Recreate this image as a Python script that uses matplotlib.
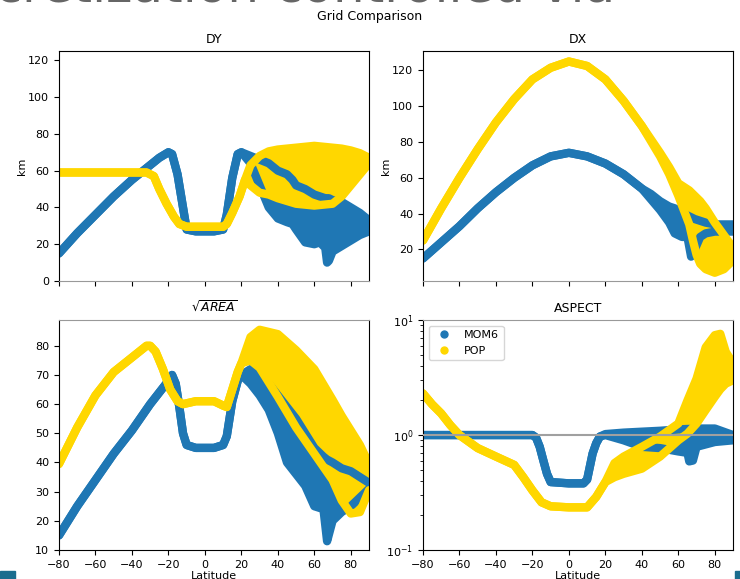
import matplotlib
matplotlib.use('Agg')
import matplotlib.pyplot as plt
from matplotlib.lines import Line2D
from matplotlib.patches import Rectangle

BLUE = '#1f77b4'
GOLD = '#ffd700'

# DY (km) - MOM6 band: latitude, lower edge, upper edge
dy_lat_mom6 = [-80, -70, -60, -50, -40, -30, -25, -20, -18, -15, -12, -10, -5, 0, 5, 10, 12, 15, 18, 20,
               25, 30, 35, 40, 45, 48, 50, 55, 60, 63, 66, 67, 68, 70, 75, 80, 85, 90]
dy_lo_mom6 = [15, 26, 36, 46, 55, 63, 67, 70, 69, 58, 40, 28, 27, 27, 27, 28, 36, 56, 69, 70,
              64, 52, 40, 34, 32, 31, 28, 21, 20, 21, 18, 10, 11, 16, 19, 22, 25, 27]
dy_hi_mom6 = [15, 26, 36, 46, 55, 63, 67, 70, 69, 58, 40, 28, 27, 27, 27, 28, 36, 56, 69, 70,
              68, 66, 64, 60, 58, 55, 52, 50, 47, 46, 45, 45, 45, 44, 43, 40, 37, 33]

dy_lat_pop = [-80, -70, -60, -50, -40, -32, -28, -25, -21, -17, -14, -10, 0, 10, 12, 15, 19, 22,
              25, 30, 35, 40, 50, 60, 70, 75, 80, 85, 90]
dy_lo_pop = [59, 59, 59, 59, 59, 59, 57, 50, 42, 35, 31, 29.5, 29.5, 29.5, 31, 37, 46, 55,
             52, 48, 47, 45, 42, 41, 42, 46, 52, 58, 64]
dy_hi_pop = [59, 59, 59, 59, 59, 59, 57, 50, 42, 35, 31, 29.5, 29.5, 29.5, 31, 37, 46, 55,
             63, 68, 70.5, 71.5, 72.5, 73.5, 72.5, 72, 71, 69.5, 67]

# DX (km)
dx_lat_mom6 = [-80, -70, -60, -50, -40, -30, -20, -10, 0, 10, 20, 30, 40, 45, 50, 55, 58, 62, 65, 67, 69, 72, 75, 80, 90]
dx_lo_mom6 = [15, 24, 33, 43, 52, 60, 67, 72, 74, 72, 68, 62, 54, 48, 42, 35, 29, 27, 27, 16, 20, 27, 29, 30, 30]
dx_hi_mom6 = [15, 24, 33, 43, 52, 60, 67, 72, 74, 72, 68, 62, 54, 51, 47, 44, 43, 41, 39, 38, 37, 36, 35, 34, 34]

dx_lat_pop = [-80, -70, -60, -50, -40, -30, -20, -10, 0, 10, 20, 30, 40, 50, 55, 60, 63, 66, 68, 70, 72, 75, 80, 85, 90]
dx_lo_pop = [25, 43, 60, 76, 91, 104, 115, 121.5, 125, 122.5, 115, 103, 89, 72, 62, 50, 42, 34, 25, 17, 12, 9, 7, 9, 14]
dx_hi_pop = [25, 43, 60, 76, 91, 104, 115, 121.5, 125, 122.5, 115, 103, 89, 74, 66, 57, 55, 53, 51, 49, 47, 43, 35, 28, 21]

# sqrt(AREA) (km)
ar_lat_mom6 = [-80, -70, -60, -50, -40, -30, -20, -18, -16, -14, -12, -10, -5, 0, 5, 10, 12, 15, 18, 20,
               25, 30, 35, 40, 45, 50, 55, 60, 65, 67, 70, 75, 80, 85, 90]
ar_lo_mom6 = [15, 25, 34, 43, 51, 60, 68, 70, 67, 59, 50, 46, 45, 45, 45, 46, 49, 61, 68, 70,
              67, 63, 58, 50, 40, 36, 32, 25, 24, 13, 20, 23, 25, 28, 31]
ar_hi_mom6 = [15, 25, 34, 43, 51, 60, 68, 70, 67, 59, 50, 46, 45, 45, 45, 46, 49, 61, 68, 70,
              72, 70, 67, 63, 59, 55, 50, 45, 42, 41, 40, 38, 37, 35, 33]

ar_lat_pop = [-80, -70, -60, -50, -40, -32, -30, -27, -23, -19, -15, -12, -5, 0, 5, 10, 12, 15, 18, 20,
              25, 30, 40, 50, 60, 70, 75, 80, 85, 90]
ar_lo_pop = [39.5, 52, 63, 71, 76, 80, 80, 78, 72, 65, 61, 60, 61, 61, 61, 59.5, 59, 65, 71, 74,
             75, 72.5, 62.5, 52, 43, 34, 27, 22.5, 23, 30.5]
ar_hi_pop = [39.5, 52, 63, 71, 76, 80, 80, 78, 72, 65, 61, 60, 61, 61, 61, 59.5, 59, 65, 71, 74,
             83, 85.5, 84, 78.5, 72, 61.5, 56, 51, 46, 39.5]

# ASPECT (dy/dx)
as_lat_mom6 = [-80, -60, -40, -20, -18, -16, -14, -12, -10, 0, 8, 10, 13, 15, 17,
               20, 30, 40, 50, 60, 65, 66, 68, 70, 80, 90]
as_lo_mom6 = [1.0, 1.0, 1.0, 1.0, 0.95, 0.79, 0.6, 0.46, 0.39, 0.38, 0.38, 0.41, 0.69, 0.85, 0.97,
              1.0, 0.9, 0.79, 0.77, 0.72, 0.7, 0.59, 0.6, 0.79, 0.87, 0.9]
as_hi_mom6 = [1.0, 1.0, 1.0, 1.0, 0.95, 0.79, 0.6, 0.46, 0.39, 0.38, 0.38, 0.41, 0.69, 0.85, 0.97,
              1.02, 1.05, 1.07, 1.09, 1.12, 1.13, 1.13, 1.13, 1.14, 1.14, 1.0]

as_lat_pop = [-80, -75, -70, -65, -60, -50, -40, -30, -25, -20, -15, -10, 0, 10, 15, 20,
              25, 30, 40, 50, 60, 65, 70, 75, 80, 83, 86, 90]
as_lo_pop = [2.3, 1.85, 1.54, 1.22, 1.0, 0.77, 0.65, 0.55, 0.43, 0.33, 0.26, 0.24, 0.235, 0.235, 0.29, 0.39,
             0.43, 0.46, 0.51, 0.65, 0.9, 1.03, 1.26, 1.65, 2.15, 2.5, 2.8, 3.0]
as_hi_pop = [2.3, 1.85, 1.54, 1.22, 1.0, 0.77, 0.65, 0.55, 0.43, 0.33, 0.26, 0.24, 0.235, 0.235, 0.29, 0.39,
             0.57, 0.65, 0.79, 0.97, 1.26, 2.0, 3.1, 5.8, 7.4, 7.6, 5.3, 4.2]

x_ticks = [-80, -60, -40, -20, 0, 20, 40, 60, 80]


def band(ax, lat, lo, hi, color):
    # thick scatter-like band: fill between edges, plus fat edge lines
    ax.fill_between(lat, lo, hi, color=color, lw=0)
    ax.plot(lat, lo, color=color, lw=6, solid_capstyle='round', solid_joinstyle='round')
    ax.plot(lat, hi, color=color, lw=6, solid_capstyle='round', solid_joinstyle='round')


plt.rcParams['font.size'] = 8
fig = plt.figure(figsize=(7.4, 5.79), dpi=100)

ax_dy = fig.add_axes([0.0797, 0.5147, 0.419, 0.397])
ax_dx = fig.add_axes([0.5716, 0.5147, 0.419, 0.397])
ax_ar = fig.add_axes([0.0797, 0.0501, 0.419, 0.397])
ax_as = fig.add_axes([0.5716, 0.0501, 0.419, 0.397])

band(ax_dy, dy_lat_mom6, dy_lo_mom6, dy_hi_mom6, BLUE)
band(ax_dy, dy_lat_pop, dy_lo_pop, dy_hi_pop, GOLD)
ax_dy.set_ylim(0, 125)
ax_dy.set_yticks([0, 20, 40, 60, 80, 100, 120])
ax_dy.set_ylabel('km', labelpad=1)
ax_dy.set_title('DY', fontsize=9)

band(ax_dx, dx_lat_mom6, dx_lo_mom6, dx_hi_mom6, BLUE)
band(ax_dx, dx_lat_pop, dx_lo_pop, dx_hi_pop, GOLD)
ax_dx.set_ylim(2.4, 130.8)
ax_dx.set_yticks([20, 40, 60, 80, 100, 120])
ax_dx.set_ylabel('km', labelpad=1)
ax_dx.set_title('DX', fontsize=9)

band(ax_ar, ar_lat_mom6, ar_lo_mom6, ar_hi_mom6, BLUE)
band(ax_ar, ar_lat_pop, ar_lo_pop, ar_hi_pop, GOLD)
ax_ar.set_ylim(10, 88.8)
ax_ar.set_yticks([10, 20, 30, 40, 50, 60, 70, 80])
ax_ar.set_title(r'$\sqrt{AREA}$', fontsize=9)
ax_ar.set_xlabel('Latitude', labelpad=1)

ax_as.set_yscale('log')
band(ax_as, as_lat_mom6, as_lo_mom6, as_hi_mom6, BLUE)
band(ax_as, as_lat_pop, as_lo_pop, as_hi_pop, GOLD)
ax_as.axhline(1.0, color='#a0a0a0', lw=1.5, zorder=5)
ax_as.set_ylim(0.1, 10)
ax_as.set_title('ASPECT', fontsize=9)
ax_as.set_xlabel('Latitude', labelpad=1)
handles = [Line2D([], [], ls='', marker='o', ms=5, color=BLUE),
           Line2D([], [], ls='', marker='o', ms=5, color=GOLD)]
ax_as.legend(handles, ['MOM6', 'POP'], loc='upper left', fontsize=8)

for ax in [ax_dy, ax_dx, ax_ar, ax_as]:
    ax.set_xlim(-80, 90)
    ax.set_xticks(x_ticks)
for ax in [ax_dy, ax_dx]:
    ax.tick_params(labelbottom=False)
    ax.spines['bottom'].set_color('#999999')
for ax in [ax_ar, ax_as]:
    ax.spines['top'].set_color('#999999')

fig.suptitle('Grid Comparison', fontsize=9, y=0.983)

# leftover slide heading, mostly cut off at the top
fig.text(0.831, 0.997, 'Discretization controlled via', ha='right', va='baseline',
         fontsize=36, color='#666666')

fig.patches.append(Rectangle((0, 0), 15 / 740, 8 / 579, transform=fig.transFigure,
                             color='#1b6d8e', figure=fig))
fig.patches.append(Rectangle((735 / 740, 0), 5 / 740, 8 / 579, transform=fig.transFigure,
                             color='#1b6d8e', figure=fig))

fig.savefig('out.png', dpi=100)
